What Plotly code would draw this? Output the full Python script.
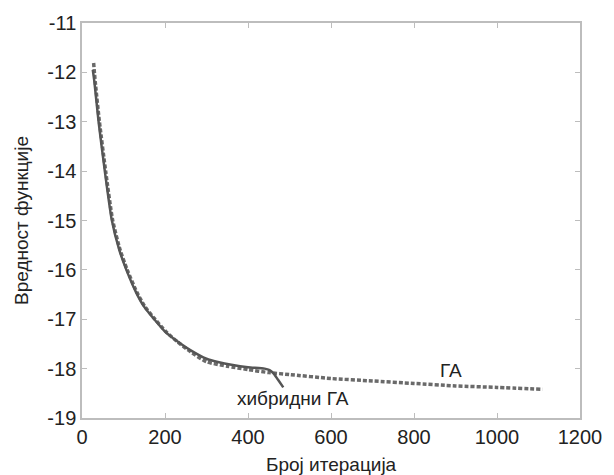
import plotly.graph_objects as go

# Hybrid GA (solid)
hyb_x = [26, 30, 40, 55, 72, 90, 107, 130, 150, 174, 200, 227, 260, 300, 330, 360, 400, 440, 452, 462, 472, 485]
hyb_y = [-11.95, -12.2, -13.0, -14.0, -15.0, -15.6, -16.0, -16.45, -16.75, -17.0, -17.25, -17.43,
         -17.62, -17.8, -17.87, -17.92, -17.97, -18.0, -18.03, -18.1, -18.22, -18.38]

# GA (dashed)
ga_x = [28, 32, 42, 57, 74, 92, 109, 132, 152, 176, 202, 229, 262, 300, 350, 400, 450, 500,
        600, 700, 800, 900, 1000, 1110]
ga_y = [-11.81, -12.2, -13.0, -14.0, -15.0, -15.6, -16.0, -16.45, -16.75, -17.0, -17.25, -17.45,
        -17.66, -17.86, -17.95, -18.02, -18.08, -18.12, -18.2, -18.25, -18.3, -18.35, -18.38, -18.42]

x_ticks = [0, 200, 400, 600, 800, 1000, 1200]
x_labels = ["0", "200", "400", "600", "800", "1000", "1200"]
y_ticks = [-11, -12, -13, -14, -15, -16, -17, -18, -19]
y_labels = ["-11", "-12", "-13", "-14", "-15", "-16", "-17", "-18", "-19"]

line_col = "#555555"
axis_col = "#bdbdbd"
font_fam = "Liberation Sans, Arial, sans-serif"

fig = go.Figure()
fig.add_trace(go.Scatter(x=ga_x, y=ga_y, mode="lines",
                         line=dict(color="#6a6a6a", width=3.5, dash="4px,2px",
                                   shape="spline", smoothing=0.6), name="ГА"))
fig.add_trace(go.Scatter(x=hyb_x, y=hyb_y, mode="lines",
                         line=dict(color=line_col, width=2.5, shape="spline", smoothing=0.6),
                         name="хибридни ГА"))

fig.add_annotation(x=508, y=-18.6, text="хибридни ГА", showarrow=False,
                   font=dict(size=19, color="#222", family=font_fam))
fig.add_annotation(x=890, y=-18.03, text="ГА", showarrow=False,
                   font=dict(size=19, color="#222", family=font_fam))
# x-axis title
fig.add_annotation(x=0.5, y=0, xref="paper", yref="paper", yanchor="middle",
                   yshift=-46, text="Број итерација", showarrow=False,
                   font=dict(size=19, color="#222", family=font_fam))

fig.update_layout(
    width=614, height=475,
    margin=dict(l=82, r=29, t=21, b=57),
    paper_bgcolor="white", plot_bgcolor="white",
    showlegend=False,
    font=dict(family=font_fam, size=19, color="#222"),
)
fig.update_xaxes(range=[0, 1200], tickvals=x_ticks, ticktext=x_labels, ticks="inside", ticklen=5,
                 tickcolor=axis_col, showline=True, linecolor=axis_col, linewidth=1.5,
                 mirror="ticks", showgrid=False, zeroline=False,
                 tickfont=dict(size=20))
fig.update_yaxes(range=[-19, -11], tickvals=y_ticks, ticktext=y_labels, ticks="inside", ticklen=5,
                 tickcolor=axis_col, showline=True, linecolor=axis_col, linewidth=1.5,
                 mirror="ticks", showgrid=False, zeroline=False,
                 title=dict(text="Вредност функције", standoff=14, font=dict(size=19)),
                 tickfont=dict(size=20))

fig.write_html("out.html", config={"displayModeBar": False},
               post_script="document.body.style.margin='0';document.body.style.overflow='hidden';")
